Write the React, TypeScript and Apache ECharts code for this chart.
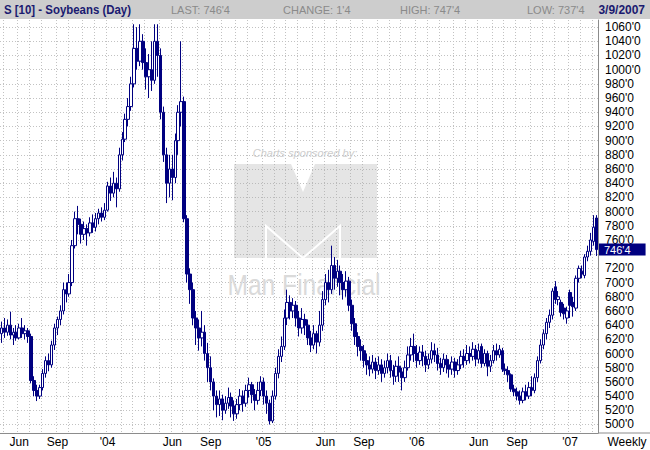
import React, { useEffect, useRef } from "react";
import * as echarts from "echarts";

// Weekly candles, 25 Apr 2003 .. 9 Mar 2007
const weekCount = 203;
const weeks: string[] = [];
for (let i = 0; i < weekCount; i++) {
  const d = new Date(Date.UTC(2003, 3, 25 + 7 * i));
  weeks.push(d.toISOString().slice(0, 10));
}

const opens = [
  628, 636, 630, 640, 626, 630, 622, 636, 628, 632,
  624, 562, 548, 540, 552, 572, 590, 584, 612, 636,
  648, 660, 690, 684, 700, 752, 790, 782, 768, 776,
  770, 784, 778, 790, 798, 792, 802, 836, 826, 840,
  832, 880, 902, 930, 948, 980, 1030, 1012, 1040, 1010,
  990, 1000, 985, 1040, 1020, 940, 880, 840, 860, 848,
  900, 940, 955, 790, 712, 690, 650, 636, 622, 630,
  600, 580, 560, 540, 528, 536, 520, 530, 538, 526,
  515, 528, 540, 530, 548, 556, 542, 534, 548, 560,
  540, 530, 505, 540, 572, 596, 610, 650, 672, 660,
  668, 650, 636, 648, 640, 622, 612, 628, 616, 640,
  676, 700, 690, 724, 706, 716, 700, 690, 702, 668,
  642, 624, 610, 604, 590, 584, 578, 588, 576, 584,
  572, 580, 590, 576, 568, 582, 574, 566, 580, 598,
  610, 600, 590, 602, 596, 584, 592, 604, 598, 586,
  580, 592, 584, 578, 588, 576, 584, 596, 590, 600,
  596, 606, 592, 610, 586, 600, 582, 590, 604, 598,
  604, 578, 576, 570, 550, 546, 540, 534, 546, 540,
  552, 548, 566, 590, 612, 628, 644, 654, 694, 676,
  672, 664, 650, 686, 672, 664, 706, 716, 710, 736,
  744, 758, 791,
];
const closes = [
  636, 630, 640, 626, 630, 622, 636, 628, 632, 624,
  562, 548, 540, 552, 572, 590, 584, 612, 636, 648,
  660, 690, 684, 700, 752, 790, 782, 768, 776, 770,
  784, 778, 790, 798, 792, 802, 836, 826, 840, 832,
  880, 902, 930, 948, 980, 1030, 1012, 1040, 1010, 990,
  1000, 985, 1040, 1020, 940, 880, 840, 860, 848, 900,
  940, 955, 790, 712, 690, 650, 636, 622, 630, 600,
  580, 560, 540, 528, 536, 520, 530, 538, 526, 515,
  528, 540, 530, 548, 556, 542, 534, 548, 560, 540,
  530, 505, 540, 572, 596, 610, 650, 672, 660, 668,
  650, 636, 648, 640, 622, 612, 628, 616, 640, 676,
  700, 690, 724, 706, 716, 700, 690, 702, 668, 642,
  624, 610, 604, 590, 584, 578, 588, 576, 584, 572,
  580, 590, 576, 568, 582, 574, 566, 580, 598, 610,
  600, 590, 602, 596, 584, 592, 604, 598, 586, 580,
  592, 584, 578, 588, 576, 584, 596, 590, 600, 596,
  606, 592, 604, 586, 600, 582, 590, 604, 598, 606,
  578, 576, 570, 550, 546, 540, 534, 546, 540, 552,
  548, 566, 590, 612, 628, 644, 654, 688, 676, 680,
  658, 656, 660, 668, 666, 706, 720, 712, 736, 744,
  760, 778, 746.5,
];
const lows = [
  615, 622, 625, 620, 612, 618, 620, 622, 620, 615,
  558, 540, 533, 536, 548, 566, 575, 580, 605, 626,
  640, 655, 672, 680, 695, 748, 768, 755, 760, 752,
  765, 770, 772, 782, 786, 788, 800, 815, 820, 806,
  828, 872, 898, 920, 942, 975, 1000, 1005, 1000, 972,
  960, 970, 980, 990, 930, 870, 812, 820, 816, 840,
  880, 920, 785, 700, 670, 640, 612, 604, 610, 590,
  560, 548, 520, 510, 512, 506, 515, 522, 510, 505,
  508, 520, 518, 525, 538, 530, 520, 528, 540, 528,
  515, 500, 502, 535, 565, 588, 605, 640, 648, 650,
  638, 624, 628, 626, 612, 602, 606, 600, 610, 632,
  668, 672, 684, 690, 694, 682, 676, 680, 660, 632,
  612, 596, 590, 580, 570, 568, 572, 564, 570, 560,
  566, 572, 566, 556, 560, 560, 548, 560, 576, 590,
  588, 580, 584, 582, 574, 578, 586, 588, 576, 570,
  574, 572, 566, 570, 566, 570, 578, 580, 584, 586,
  590, 582, 586, 580, 582, 568, 574, 586, 590, 594,
  574, 570, 560, 546, 540, 534, 528, 530, 534, 536,
  540, 544, 560, 586, 606, 620, 636, 648, 670, 668,
  652, 648, 642, 650, 652, 660, 700, 706, 706, 730,
  738, 752, 737.5,
];
const highs = [
  645, 650, 648, 659, 636, 640, 642, 650, 640, 636,
  628, 568, 556, 556, 578, 596, 600, 618, 642, 652,
  668, 700, 700, 712, 760, 800, 808, 790, 786, 782,
  792, 796, 798, 804, 806, 812, 842, 848, 856, 848,
  890, 912, 938, 960, 990, 1064, 1060, 1064, 1050, 1030,
  1022, 1040, 1064, 1064, 1030, 948, 890, 880, 880, 910,
  950, 1040, 962, 795, 720, 700, 660, 648, 660, 640,
  615, 596, 565, 548, 548, 542, 540, 552, 545, 534,
  536, 550, 548, 556, 566, 560, 550, 560, 568, 566,
  548, 535, 548, 580, 606, 624, 662, 690, 682, 678,
  674, 660, 664, 656, 648, 632, 640, 632, 660, 688,
  712, 718, 752, 736, 732, 724, 712, 716, 708, 676,
  650, 630, 620, 612, 600, 596, 598, 594, 596, 592,
  590, 600, 598, 584, 590, 596, 580, 590, 610, 622,
  628, 612, 610, 612, 604, 600, 616, 614, 608, 594,
  600, 598, 592, 596, 594, 592, 604, 606, 612, 610,
  616, 612, 614, 614, 606, 604, 598, 612, 614, 612,
  608, 586, 582, 572, 556, 552, 548, 552, 556, 560,
  568, 572, 596, 620, 634, 650, 662, 692, 702, 688,
  676, 670, 666, 690, 680, 710, 724, 724, 740, 752,
  770, 795, 795,
];

const yTicks = [
  500, 520, 540, 560, 580, 600, 620, 640, 660, 680, 700, 720, 740, 760, 780,
  800, 820, 840, 860, 880, 900, 920, 940, 960, 980, 1000, 1020, 1040, 1060,
];
// 740'0 sits behind the last-price box in the reference
const yLabels = yTicks.filter((v) => v !== 740);
const monthNames = ["Jan", "Feb", "Mar", "Apr", "May", "Jun", "Jul", "Aug", "Sep", "Oct", "Nov", "Dec"];
const labelMonths = [0, 5, 8];

const lastClose = closes[closes.length - 1];

function fmt(v: number): string {
  const w = Math.floor(v);
  const e = Math.round((v - w) * 8);
  return `${w}'${e}`;
}

const NAVY = "#000080";
const SANS = "'Liberation Sans', Arial, sans-serif";

export default function App() {
  const ref = useRef<HTMLDivElement>(null);
  useEffect(() => {
    if (!ref.current) return;
    const chart = echarts.init(ref.current, null, { renderer: "svg" });
    const monthOf = (s: string) => parseInt(s.slice(5, 7), 10) - 1;
    const monthStart = weeks.map((w, i) => i > 0 && monthOf(w) !== monthOf(weeks[i - 1]));
    const isLabel = (i: number) => monthStart[i] && labelMonths.includes(monthOf(weeks[i]));
    const candles = weeks.map((_, i) => [opens[i], closes[i], lows[i], highs[i]]);

    const headerText = (text: string, x: number) => ({
      type: "text",
      z: 101,
      x,
      y: 10,
      style: { text, fill: "#8a8a8a", font: `11px ${SANS}`, textVerticalAlign: "middle" },
    });

    const option: any = {
      animation: false,
      backgroundColor: "#ffffff",
      grid: { left: 0, right: 52, top: 20, height: 413 },
      xAxis: {
        type: "category",
        data: weeks,
        boundaryGap: true,
        axisLine: { show: true, lineStyle: { color: "#8c8c8c", width: 1 } },
        axisTick: { show: false },
        axisLabel: {
          interval: (i: number) => isLabel(i),
          formatter: (v: string) => {
            const m = monthOf(v);
            return m === 0 ? "'" + v.slice(2, 4) : monthNames[m];
          },
          color: "#000",
          fontSize: 12,
          fontFamily: SANS,
          margin: 3,
        },
        splitLine: {
          show: true,
          interval: (i: number) => monthStart[i],
          lineStyle: { color: "#c2c2c2", type: [1, 2], width: 1 },
        },
      },
      yAxis: {
        type: "value",
        position: "right",
        min: 488,
        max: 1070,
        axisLine: { show: true, lineStyle: { color: "#8c8c8c", width: 1 } },
        axisTick: { show: false, customValues: yTicks },
        axisLabel: {
          customValues: yLabels,
          formatter: (v: number) => fmt(v),
          color: "#000",
          fontSize: 12,
          lineHeight: 11,
          fontFamily: SANS,
          margin: 7,
        },
        splitLine: { show: true, lineStyle: { color: "#c2c2c2", type: [1, 2], width: 1 } },
      },
      series: [
        {
          type: "candlestick",
          data: candles,
          barWidth: 3,
          itemStyle: {
            color: "#ffffff",
            color0: NAVY,
            borderColor: NAVY,
            borderColor0: NAVY,
            borderWidth: 1,
          },
          markLine: {
            symbol: ["none", "none"],
            silent: true,
            data: [{ yAxis: lastClose }],
            lineStyle: { color: "rgba(0,0,0,0)", width: 0 },
            label: {
              show: true,
              opacity: 1,
              position: "end",
              formatter: () => fmt(lastClose),
              backgroundColor: NAVY,
              color: "#ffffff",
              fontSize: 11,
              lineHeight: 12,
              fontFamily: SANS,
              padding: [0, 15, 0, 5],
              distance: 1,
            },
          },
        },
      ],
      graphic: [
        // watermark
        {
          type: "text",
          z: 1,
          x: 305,
          y: 153,
          style: {
            text: "Charts sponsored by:",
            fill: "#cdcdcd",
            font: `italic 11px ${SANS}`,
            textAlign: "center",
            textVerticalAlign: "middle",
          },
        },
        {
          type: "polygon",
          z: 1,
          shape: {
            points: [
              [234, 164], [291, 164], [303, 192], [315, 164], [377, 164],
              [377, 258], [234, 258],
            ],
          },
          style: { fill: "rgba(170,170,170,0.3)" },
        },
        {
          type: "polyline",
          z: 1,
          shape: { points: [[266, 258], [266, 226], [303, 258], [340, 226], [340, 258]] },
          style: { stroke: "#ffffff", lineWidth: 2, fill: "none" },
        },
        {
          type: "text",
          z: 1,
          x: 304,
          y: 285,
          scaleX: 0.82,
          style: {
            text: "Man Financial",
            fill: "#dadada",
            font: `30px ${SANS}`,
            textAlign: "center",
            textVerticalAlign: "middle",
          },
        },
        // header
        {
          type: "rect",
          z: 100,
          shape: { x: 0, y: 0, width: 650, height: 19 },
          style: { fill: "#cdcdcd" },
        },
        {
          type: "text",
          z: 101,
          x: 4,
          y: 10,
          scaleX: 0.88,
          style: {
            text: "S [10] - Soybeans (Day)",
            fill: "#1a1a70",
            font: `bold 13px ${SANS}`,
            textVerticalAlign: "middle",
          },
        },
        headerText("LAST: 746'4", 171),
        headerText("CHANGE: 1'4", 283),
        headerText("HIGH: 747'4", 400),
        headerText("LOW: 737'4", 527),
        {
          type: "text",
          z: 101,
          x: 645,
          y: 10,
          scaleX: 0.92,
          style: {
            text: "3/9/2007",
            fill: "#1a1a70",
            font: `bold 13px ${SANS}`,
            textAlign: "right",
            textVerticalAlign: "middle",
          },
        },
        // bottom axis extension + "Weekly"
        {
          type: "line",
          z: 5,
          shape: { x1: 598, y1: 433, x2: 650, y2: 433 },
          style: { stroke: "#8c8c8c", lineWidth: 1 },
        },
        {
          type: "text",
          z: 5,
          x: 627,
          y: 442,
          style: {
            text: "Weekly",
            fill: "#000",
            font: `12px ${SANS}`,
            textAlign: "center",
            textVerticalAlign: "middle",
          },
        },
      ],
    };
    chart.setOption(option);
    return () => chart.dispose();
  }, []);
  return (
    <div
      ref={ref}
      style={{ position: "fixed", left: 0, top: 0, width: 650, height: 450 }}
    />
  );
}
